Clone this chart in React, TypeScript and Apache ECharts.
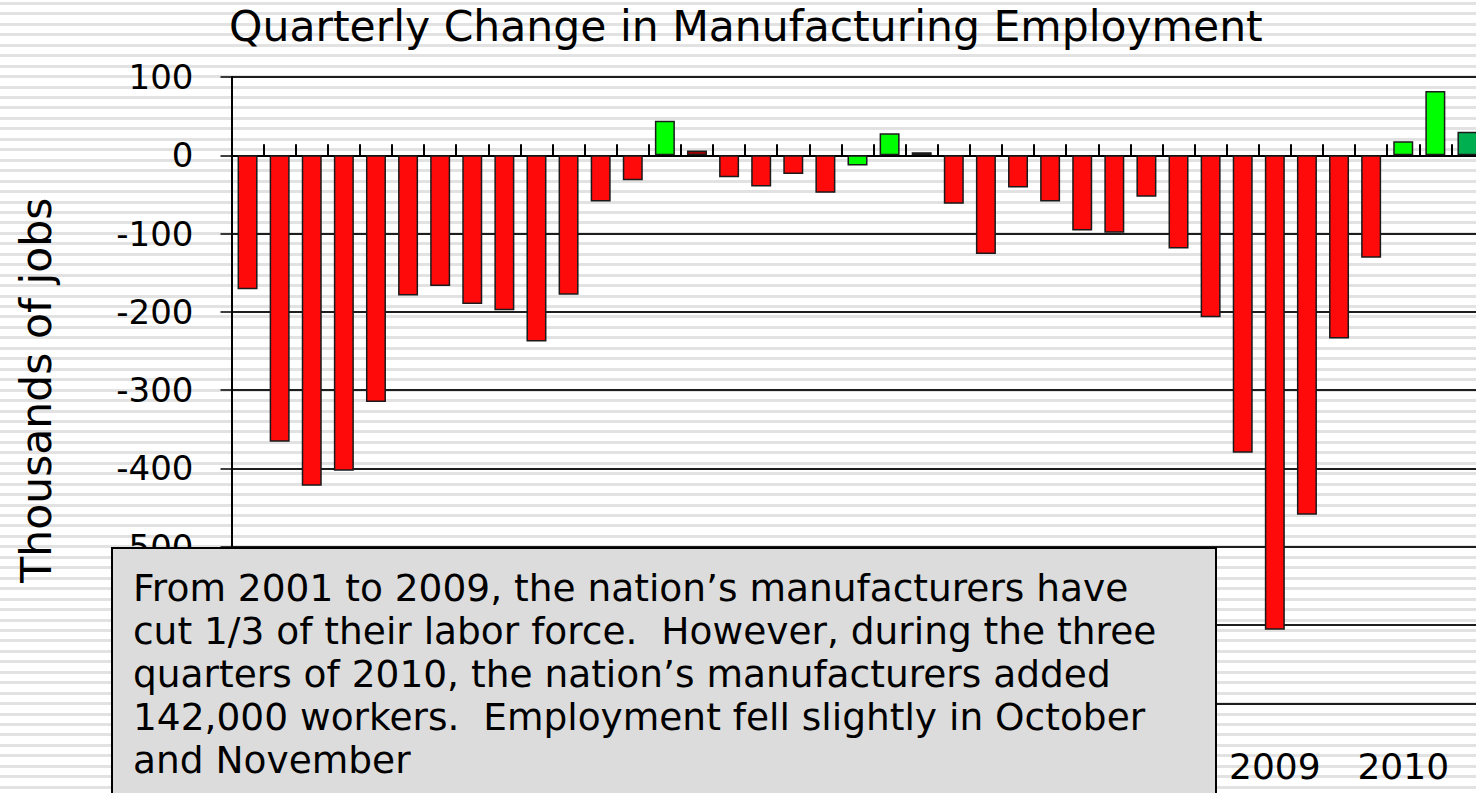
import React, { useEffect, useRef } from "react";
import * as echarts from "echarts";

const titleText = "Quarterly Change in Manufacturing Employment";
const yAxisName = "Thousands of jobs";

const years = ["2001", "2002", "2003", "2004", "2005", "2006", "2007", "2008", "2009", "2010"];
const quarters = ["Q1", "Q2", "Q3", "Q4"];
// 2001 Q1 .. 2010 Q3
const categories: string[] = [];
years.forEach((y) => quarters.forEach((q) => categories.push(y + " " + q)));
categories.length = 39;

// year labels that are not hidden behind the note box
const visibleYearLabels = ["2009", "2010"];

const values = [
  -171, -366, -422, -403, -315, -179, -167, -190, -198, -238, -178, -59, -32,
  44, 6, -28, -40, -24, -48, -13, 28, 4,
  -62, -126, -41, -59, -96, -99, -53, -119, -207, -380, -606, -459, -234, -131,
  18, 82, 30,
];

const RED = "#ff0a0a";
const GREEN = "#00ff00";
const DARKRED = "#a00000";
const DARKGREEN = "#00b050";
const barColors = [
  RED, RED, RED, RED, RED, RED, RED, RED, RED, RED, RED, RED, RED,
  GREEN, DARKRED, RED, RED, RED, RED, GREEN, GREEN, DARKRED,
  RED, RED, RED, RED, RED, RED, RED, RED, RED, RED, RED, RED, RED, RED,
  GREEN, GREEN, DARKGREEN,
];

const yMin = -700;
const yMax = 100;
const yStep = 100;
const lowestVisibleYLabel = -500;

const noteLines = [
  "From 2001 to 2009, the nation\u2019s manufacturers have",
  "cut 1/3 of their labor force.  However, during the three",
  "quarters of 2010, the nation\u2019s manufacturers added",
  "142,000 workers.  Employment fell slightly in October",
  "and November",
];

const FONT = "'DejaVu Sans', Verdana, sans-serif";

export default function App() {
  const ref = useRef<HTMLDivElement>(null);
  useEffect(() => {
    if (!ref.current) return;
    const chart = echarts.init(ref.current, undefined, { renderer: "svg" });
    chart.setOption({
      animation: false,
      backgroundColor: "transparent",
      textStyle: { fontFamily: FONT },
      title: {
        text: titleText,
        left: 229,
        top: 5,
        padding: 0,
        textStyle: { fontSize: 42.5, fontWeight: "normal", color: "#000", fontFamily: FONT },
      },
      grid: { left: 231.5, top: 77, right: 0.5, bottom: 89.7, containLabel: false },
      xAxis: [
        {
          type: "category",
          data: categories,
          position: "bottom",
          axisLine: { show: false, onZero: false },
          axisTick: { show: false },
          axisLabel: {
            interval: 0,
            margin: 45,
            fontSize: 36,
            color: "#000",
            fontFamily: FONT,
            formatter: (v: string) => {
              const y = v.slice(0, 4);
              return v.endsWith("Q1") && visibleYearLabels.includes(y) ? y : "";
            },
          },
          splitLine: { show: false },
        },
        {
          type: "category",
          data: categories,
          position: "bottom",
          axisLine: { show: true, onZero: true, lineStyle: { color: "#000", width: 2 } },
          axisTick: { show: true, inside: true, length: 11, interval: 0, lineStyle: { color: "#000", width: 2 } },
          axisLabel: { show: false },
          splitLine: { show: false },
        },
      ],
      yAxis: {
        type: "value",
        min: yMin,
        max: yMax,
        interval: yStep,
        name: yAxisName,
        nameLocation: "middle",
        nameGap: 174,
        nameTextStyle: { fontSize: 42.5, color: "#000", fontFamily: FONT },
        axisLine: { show: true, lineStyle: { color: "#000", width: 2 } },
        axisTick: { show: true, inside: false, length: 11, lineStyle: { color: "#000", width: 1.5 } },
        axisLabel: {
          fontSize: 34,
          color: "#000",
          margin: 38,
          fontFamily: FONT,
          formatter: (v: number) => (v < lowestVisibleYLabel ? "" : String(v)),
        },
        splitLine: { show: true, lineStyle: { color: "#1e1e1e", width: 2 } },
      },
      series: [
        {
          type: "bar",
          xAxisIndex: 0,
          yAxisIndex: 0,
          barWidth: 20,
          data: values.map((v, i) => ({
            value: v,
            itemStyle: { color: barColors[i], borderColor: "#1a1a1a", borderWidth: 1.5 },
          })),
        },
      ],
      graphic: [
        {
          type: "group",
          z: 100,
          children: [
            {
              type: "rect",
              shape: { x: 112, y: 548, width: 1104, height: 260 },
              style: { fill: "#dcdcdc", stroke: "#000", lineWidth: 2 },
              z: 100,
            },
            {
              type: "text",
              x: 133,
              y: 566,
              z: 101,
              style: {
                text: noteLines.join("\n"),
                fontSize: 37.5,
                lineHeight: 43,
                fontFamily: FONT,
                fill: "#000",
              },
            },
          ],
        },
      ],
    });
    return () => chart.dispose();
  }, []);
  return (
    <div
      style={{
        position: "fixed",
        left: 0,
        top: 0,
        width: 1476,
        height: 793,
        overflow: "hidden",
        background:
          "repeating-linear-gradient(to bottom, #ffffff 0px, #ffffff 2px, #e2e2e2 2px, #e2e2e2 5px, #ffffff 5px, #ffffff 10.45px)",
      }}
    >
      <div ref={ref} style={{ position: "absolute", left: 0, top: 0, width: 1484, height: 793 }} />
    </div>
  );
}
